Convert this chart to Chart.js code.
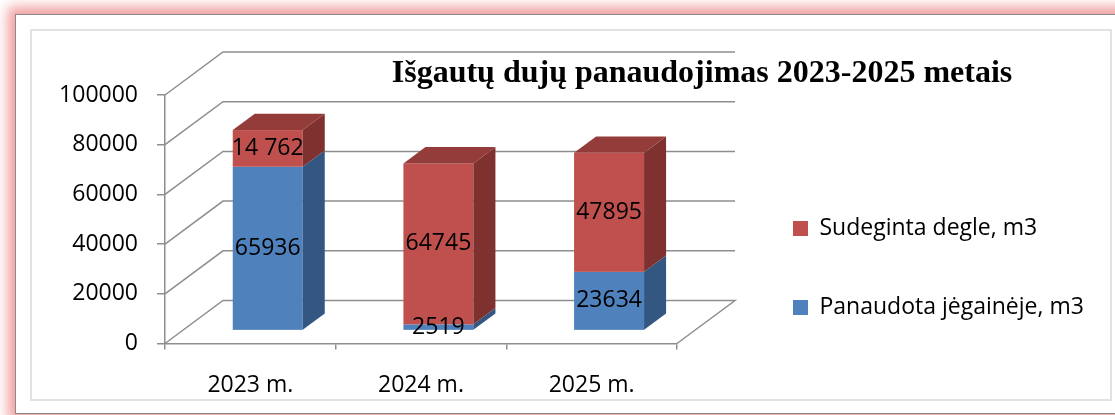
<!DOCTYPE html>
<html lang="lt">
<head>
<meta charset="UTF-8">
<title>Išgautų dujų panaudojimas</title>
<script src="https://cdn.jsdelivr.net/npm/chart.js"></script>
<style>
    body { margin: 0; background: #fff; overflow: hidden; }
    .frame {
        position: absolute; left: 15px; top: 14px; width: 1200px; height: 398px;
        border: 1px solid #8a8a8a;
        box-shadow: 0 0 12px 7px rgba(238, 140, 140, 0.85);
        background: #fff;
    }
    .inner {
        position: absolute; left: 30px; top: 29px; width: 1078px; height: 368px;
        border: 2px solid #e2e2e2;
    }
    #chart { position: absolute; left: 0; top: 0; }
</style>
</head>
<body>
<div class="frame"></div>
<div class="inner"></div>
<canvas id="chart" width="1115" height="415"></canvas>
<script>
const years = ['2023 m.', '2024 m.', '2025 m.'];
const usedInPlant = [65936, 2519, 23634];
const burnedInFlare = [14762, 64745, 47895];
const usedLabels = ['65936', '2519', '23634'];
const burnedLabels = ['14 762', '64745', '47895'];
const chartTitle = 'Išgautų dujų panaudojimas 2023-2025 metais';

const FONT = "'Open Sans', sans-serif";
const GRID = '#8e8e8e';
// 3D depth of the box and of the columns
const DX = 58, DY = -43;
const BAR_OFF = 0.30, BAR_DEPTH = 0.38;
const shades = [
    { side: '#345782', top: '#3d6698' },
    { side: '#7f312f', top: '#943c3a' }
];
const valueLabels = [usedLabels, burnedLabels];

const box3d = {
    id: 'box3d',
    beforeDatasetsDraw(chart) {
        const { ctx, scales: { x, y } } = chart;
        ctx.save();
        ctx.strokeStyle = GRID;
        ctx.lineWidth = 1.5;
        // walls and floor
        y.ticks.forEach(t => {
            const yy = y.getPixelForValue(t.value);
            ctx.beginPath();
            ctx.moveTo(x.left, yy);
            ctx.lineTo(x.left + DX, yy + DY);
            ctx.lineTo(x.right + DX, yy + DY);
            if (t.value === 0) ctx.lineTo(x.right, yy);
            ctx.stroke();
        });

        // columns
        const ox = BAR_OFF * DX, oy = BAR_OFF * DY;
        const bx = BAR_DEPTH * DX, by = BAR_DEPTH * DY;
        const metas = chart.data.datasets.map((d, i) => chart.getDatasetMeta(i));
        years.forEach((yr, i) => {
            let topIdx = 0;
            metas.forEach((m, d) => { if (chart.data.datasets[d].data[i] > 0) topIdx = d; });
            metas.forEach((m, d) => {
                const el = m.data[i];
                const l = el.x - el.width / 2 + ox, r = el.x + el.width / 2 + ox;
                const t = el.y + oy, b = el.base + oy;
                ctx.fillStyle = chart.data.datasets[d].backgroundColor;
                ctx.fillRect(l, t, r - l, b - t);
                ctx.fillStyle = shades[d].side;
                ctx.beginPath();
                ctx.moveTo(r, b);
                ctx.lineTo(r + bx, b + by);
                ctx.lineTo(r + bx, t + by);
                ctx.lineTo(r, t);
                ctx.closePath();
                ctx.fill();
                if (d === topIdx) {
                    ctx.fillStyle = shades[d].top;
                    ctx.beginPath();
                    ctx.moveTo(l, t);
                    ctx.lineTo(l + bx, t + by);
                    ctx.lineTo(r + bx, t + by);
                    ctx.lineTo(r, t);
                    ctx.closePath();
                    ctx.fill();
                }
            });
        });

        // value labels
        ctx.fillStyle = '#000';
        ctx.font = '23px ' + FONT;
        ctx.textAlign = 'center';
        ctx.textBaseline = 'middle';
        metas.forEach((m, d) => {
            m.data.forEach((el, i) => {
                ctx.fillText(valueLabels[d][i], el.x + ox, (el.y + el.base) / 2 + oy);
            });
        });

        // title
        ctx.font = "bold 32px 'Liberation Serif', 'Times New Roman', serif";
        ctx.textBaseline = 'alphabetic';
        ctx.fillText(chartTitle, 702, 82);
        ctx.restore();
        return false;
    }
};

const chart = new Chart(document.getElementById('chart'), {
    type: 'bar',
    data: {
        labels: years,
        datasets: [
            {
                label: 'Panaudota jėgainėje, m3',
                data: usedInPlant,
                backgroundColor: '#4f81bd',
                borderWidth: 0
            },
            {
                label: 'Sudeginta degle, m3',
                data: burnedInFlare,
                backgroundColor: '#c0504d',
                borderWidth: 0
            }
        ]
    },
    options: {
        responsive: false,
        animation: false,
        events: [],
        categoryPercentage: 1,
        barPercentage: 0.41,
        layout: { padding: { left: 40, top: 95, right: 30, bottom: 10 } },
        plugins: {
            legend: {
                position: 'right',
                align: 'start',
                reverse: true,
                maxWidth: 600,
                title: { display: true, text: ' ', font: { size: 10, lineHeight: 1 }, padding: { top: 56, bottom: 0 } },
                labels: {
                    boxWidth: 15,
                    boxHeight: 15,
                    padding: 56,
                    color: '#000',
                    font: { family: FONT, size: 23 }
                }
            },
            tooltip: { enabled: false }
        },
        scales: {
            x: {
                stacked: true,
                grid: { drawOnChartArea: false, tickLength: 6, color: GRID, lineWidth: 1.5 },
                border: { color: GRID, width: 1.5 },
                ticks: { color: '#000', padding: 22, font: { family: FONT, size: 23 } },
                afterFit: s => { s.height = 415 - 10 - 343.5; }
            },
            y: {
                stacked: true,
                min: 0,
                max: 100000,
                grid: { drawOnChartArea: false, tickLength: 8, color: GRID, lineWidth: 1.5 },
                border: { color: GRID, width: 1.5 },
                ticks: { stepSize: 20000, color: '#000', padding: 19, font: { family: FONT, size: 23 }, callback: v => String(v) },
                afterFit: s => { s.width = 125; }
            },
            spacer: {
                position: 'right',
                grid: { display: false },
                border: { display: false },
                ticks: { display: false },
                afterFit: s => { s.width = 60; }
            }
        }
    },
    plugins: [box3d]
});

// keep the plot area right edge where the reference has it
const shift = chart.chartArea.right - 677;
chart.options.layout.padding.right += shift;
chart.update();
</script>
</body>
</html>
